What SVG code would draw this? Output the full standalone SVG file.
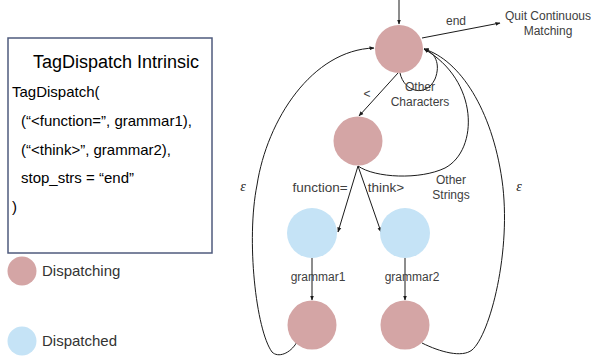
<svg xmlns="http://www.w3.org/2000/svg" width="591" height="358" viewBox="0 0 591 358">
<style>
.pink{fill:#D4A5A5}
.blue{fill:#C5E3F6}
.edge{fill:none;stroke:#1a1a1a;stroke-width:1}
.lbl{font-family:"Liberation Sans",Arial,sans-serif;font-size:12px;fill:#404040}
.lbl2{font-family:"Liberation Sans",Arial,sans-serif;font-size:13.5px;fill:#404040}
.code{font-family:"Liberation Sans",Arial,sans-serif;font-size:15px;fill:#000}
.eps{font-family:"Liberation Serif","DejaVu Serif",serif;font-style:italic;font-size:14px;fill:#222}
.leg{font-family:"Liberation Sans",Arial,sans-serif;font-size:15px;fill:#333}
</style>
<defs>
<marker id="ah" viewBox="0 0 10 10" refX="9" refY="5" markerWidth="5" markerHeight="5" orient="auto" markerUnits="userSpaceOnUse">
<path d="M0,1 L10,5 L0,9 Z" fill="#1a1a1a"/>
</marker>
</defs>
<rect width="591" height="358" fill="#fff"/>
<g id="intrinsic-box">
<rect x="8" y="38" width="204" height="215" fill="#fff" stroke="#4F5B7D" stroke-width="1.5"/>
<text x="116" y="68" text-anchor="middle" font-family="Liberation Sans,Arial,sans-serif" font-size="18" fill="#000">TagDispatch Intrinsic</text>
<text class="code" x="12" y="97">TagDispatch(</text>
<text class="code" x="21" y="126">(“&lt;function=”, grammar1),</text>
<text class="code" x="21" y="155">(“&lt;think&gt;”, grammar2),</text>
<text class="code" x="21" y="183">stop_strs = “end”</text>
<text class="code" x="12" y="212">)</text>
</g>
<g id="legend-dispatching">
<circle class="pink" cx="22" cy="271" r="14.5"/>
<text class="leg" x="42" y="276">Dispatching</text>
</g>
<g id="legend-dispatched">
<circle class="blue" cx="22" cy="341" r="14.5"/>
<text class="leg" x="42" y="346">Dispatched</text>
</g>
<g id="connectors">
<line class="edge" x1="399" y1="0" x2="399" y2="24" marker-end="url(#ah)"/>
<line class="edge" x1="422" y1="38" x2="500" y2="23" marker-end="url(#ah)"/>
<path class="edge" d="M400,73 C404,92 426,98 435,79 C441,64 435,52 424,49" marker-end="url(#ah)"/>
<line class="edge" x1="398" y1="73" x2="359" y2="116" marker-end="url(#ah)"/>
<path class="edge" d="M358,166 C375,178 420,180 445,168 C479,150 479,80 424,49" marker-end="url(#ah)"/>
<path class="edge" d="M422,343 C440,352 462,358 472,350 C490,335 512,250 502,180 C492,110 460,60 424,49" marker-end="url(#ah)"/>
<path class="edge" d="M297,342 C290,354 278,358 272,352 C256,330 246,240 257,185 C267,120 312,50 374,48" marker-end="url(#ah)"/>
<line class="edge" x1="358" y1="166" x2="338" y2="232" marker-end="url(#ah)"/>
<line class="edge" x1="358" y1="166" x2="381" y2="232" marker-end="url(#ah)"/>
<line class="edge" x1="312" y1="258" x2="312" y2="300" marker-end="url(#ah)"/>
<line class="edge" x1="405" y1="258" x2="405" y2="300" marker-end="url(#ah)"/>
<text class="lbl" x="456" y="25" text-anchor="middle">end</text>
<text class="lbl" x="548" y="20" text-anchor="middle">Quit Continuous</text>
<text class="lbl" x="548" y="35" text-anchor="middle">Matching</text>
<text class="lbl" x="420" y="91" text-anchor="middle">Other</text>
<text class="lbl" x="420" y="106" text-anchor="middle">Characters</text>
<text class="lbl" x="367" y="98" text-anchor="middle">&lt;</text>
<text class="lbl" x="451" y="184" text-anchor="middle">Other</text>
<text class="lbl" x="451" y="199" text-anchor="middle">Strings</text>
<text class="lbl2" x="320" y="192" text-anchor="middle">function=</text>
<text class="lbl2" x="386" y="192" text-anchor="middle">think&gt;</text>
<text class="lbl" x="318" y="281" text-anchor="middle">grammar1</text>
<text class="lbl" x="412" y="281" text-anchor="middle">grammar2</text>
<text class="eps" x="243" y="191" text-anchor="middle">ε</text>
<text class="eps" x="519" y="191" text-anchor="middle">ε</text>
</g>
<g id="node-start"><circle class="pink" cx="399" cy="49" r="24"/></g>
<g id="node-tag"><circle class="pink" cx="358" cy="141" r="24.5"/></g>
<g id="node-g1"><circle class="blue" cx="312" cy="233" r="25"/></g>
<g id="node-g2"><circle class="blue" cx="405" cy="233" r="25"/></g>
<g id="node-end1"><circle class="pink" cx="312" cy="325" r="24.5"/></g>
<g id="node-end2"><circle class="pink" cx="405" cy="325" r="24.5"/></g>
</svg>
